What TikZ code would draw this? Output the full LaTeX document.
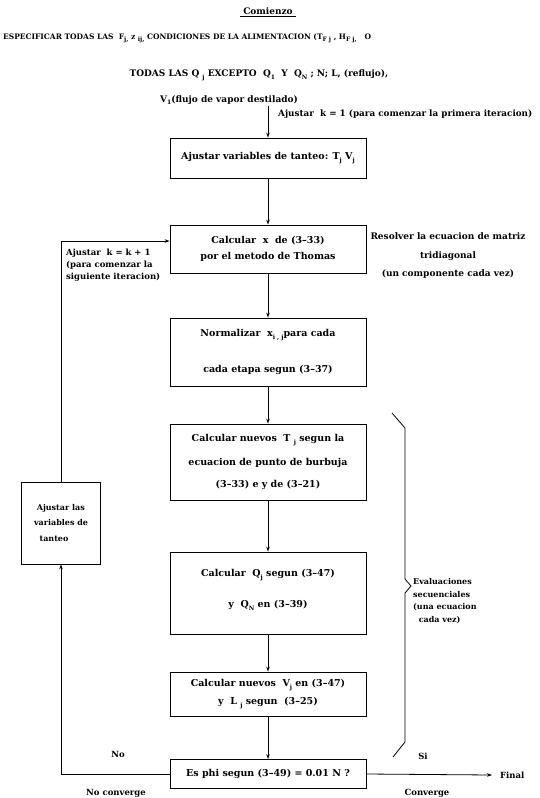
\documentclass[tikz,border=0pt]{standalone}
\usepackage{fontspec}
\setmainfont{DejaVu Serif}
\usetikzlibrary{arrows.meta}
\newcommand\sbs[1]{\raisebox{-0.6ex}{\fontsize{6}{6}\selectfont #1}}
\begin{document}
\begin{tikzpicture}[x=1pt,y=-1pt,
 every node/.style={font=\bfseries\fontsize{9.5}{11.4}\selectfont, inner sep=0pt},
 box/.style={draw, line width=0.8pt, minimum width=196pt, align=center},
 lbl/.style={font=\bfseries\fontsize{8.5}{10}\selectfont},
 small/.style={font=\bfseries\fontsize{8}{9.5}\selectfont},
 hdr/.style={font=\bfseries\fontsize{7.5}{9}\selectfont},
 hdrb/.style={font=\bfseries\fontsize{9}{10.8}\selectfont},
 arr/.style={-{Stealth[length=5pt,width=3.5pt]}, line width=0.8pt},
 ln/.style={line width=0.8pt}
]
\useasboundingbox (0,0) rectangle (539,798);

% header
\node[hdrb] (com) at (268,12) {\underline{\ Comienzo\ }};
\node[hdr, anchor=west] (h1) at (3,38) {ESPECIFICAR TODAS LAS \ F\sbs{j,} z \sbs{ij,} CONDICIONES DE LA ALIMENTACION (T\sbs{F\ j} , H\sbs{F\ j,} \ \ O};
\node[hdrb] (h2) at (259,75) {TODAS LAS Q \sbs{j} EXCEPTO \ Q\sbs{1} \ Y \ Q\sbs{N} ; N; L, (reflujo),};
\node[hdrb, anchor=west] (h3) at (160,100) {V\sbs{1}(flujo de vapor destilado)};

% boxes
\node[box, minimum height=40pt] (b1) at (268,158) {Ajustar variables de tanteo: T\sbs{j} V\sbs{j}};
\node[box, minimum height=48pt] (b2) at (268,249) {Calcular \ x \ de (3--33)\\[5pt] por el metodo de Thomas};
\node[box, minimum height=68pt] (b3) at (268,352) {Normalizar \ x\sbs{i , j}para cada\\[23pt] cada etapa segun (3--37)};
\node[box, minimum height=76pt] (b4) at (268,462) {Calcular nuevos \ T \sbs{j} segun la\\[11pt] ecuacion de punto de burbuja\\[11pt] (3--33) e y de (3--21)};
\node[box, minimum height=82pt] (b5) at (268,593) {Calcular \ Q\sbs{j} segun (3--47)\\[19pt] y \ Q\sbs{N} en (3--39)\\[-2pt]\mbox{}};
\node[box, minimum height=44pt] (b6) at (268,694) {Calcular nuevos \ V\sbs{j} en (3--47)\\[5pt] y \ L \sbs{j} segun \ (3--25)};
\node[box, minimum height=29pt] (b7) at (268,774) {Es phi segun (3--49) = 0.01 N ?};
\node[box, font=\bfseries\fontsize{8}{9.6}\selectfont, minimum width=79pt, minimum height=82pt, align=left] (lb) at (61,523) {\ Ajustar las\\[6pt] variables de\\[6pt] \ \ tanteo};

% side labels
\node[lbl, font=\bfseries\fontsize{8.8}{10}\selectfont, anchor=west] (k1) at (278,114) {Ajustar \ k = 1 (para comenzar la primera iteracion)};
\node[lbl, font=\bfseries\fontsize{9}{10}\selectfont] (r1) at (448,236) {Resolver la ecuacion de matriz};
\node[lbl, font=\bfseries\fontsize{9}{10}\selectfont] (r2) at (448,256) {tridiagonal};
\node[lbl, font=\bfseries\fontsize{9}{10}\selectfont] (r3) at (448,274) {(un componente cada vez)};
\node[lbl, anchor=west, align=left] (kk) at (66,265) {Ajustar \ k = k + 1\\[2pt] (para comenzar la\\[2pt] siguiente iteracion)};
\node[small, anchor=west, align=left] (ev) at (413,601) {Evaluaciones\\[3pt] secuenciales\\[3pt] (una ecuacion\\[3pt] \ \ cada vez)};
\node[lbl] (no) at (118,754) {No};
\node[lbl] (nc) at (116,793) {No converge};
\node[lbl] (si) at (423,756) {Si};
\node[lbl] (cv) at (427,793) {Converge};
\node[lbl, anchor=west] (fin) at (500,775) {Final};

% connectors
\coordinate (s) at (268,106);
\draw[arr] (s) -- (b1.north);
\draw[arr] (b1.south) -- (b2.north);
\draw[arr] (b2.south) -- (b3.north);
\draw[arr] (b3.south) -- (b4.north);
\draw[arr] (b4.south) -- (b5.north);
\draw[arr] (b5.south) -- (b6.north);
\draw[arr] (b6.south) -- (b7.north);
\draw[arr] (b7.west) -| (lb.south);
\draw[arr] (lb.north) |- ([yshift=8pt]b2.west);
\draw[arr] (b7.east) -- ([xshift=-8pt]fin.west);

% brace
\draw[ln] (392,413) -- (405,428) -- (405,579) -- (411,586) -- (405,593) -- (405,742) -- (393,757);
\end{tikzpicture}
\end{document}
